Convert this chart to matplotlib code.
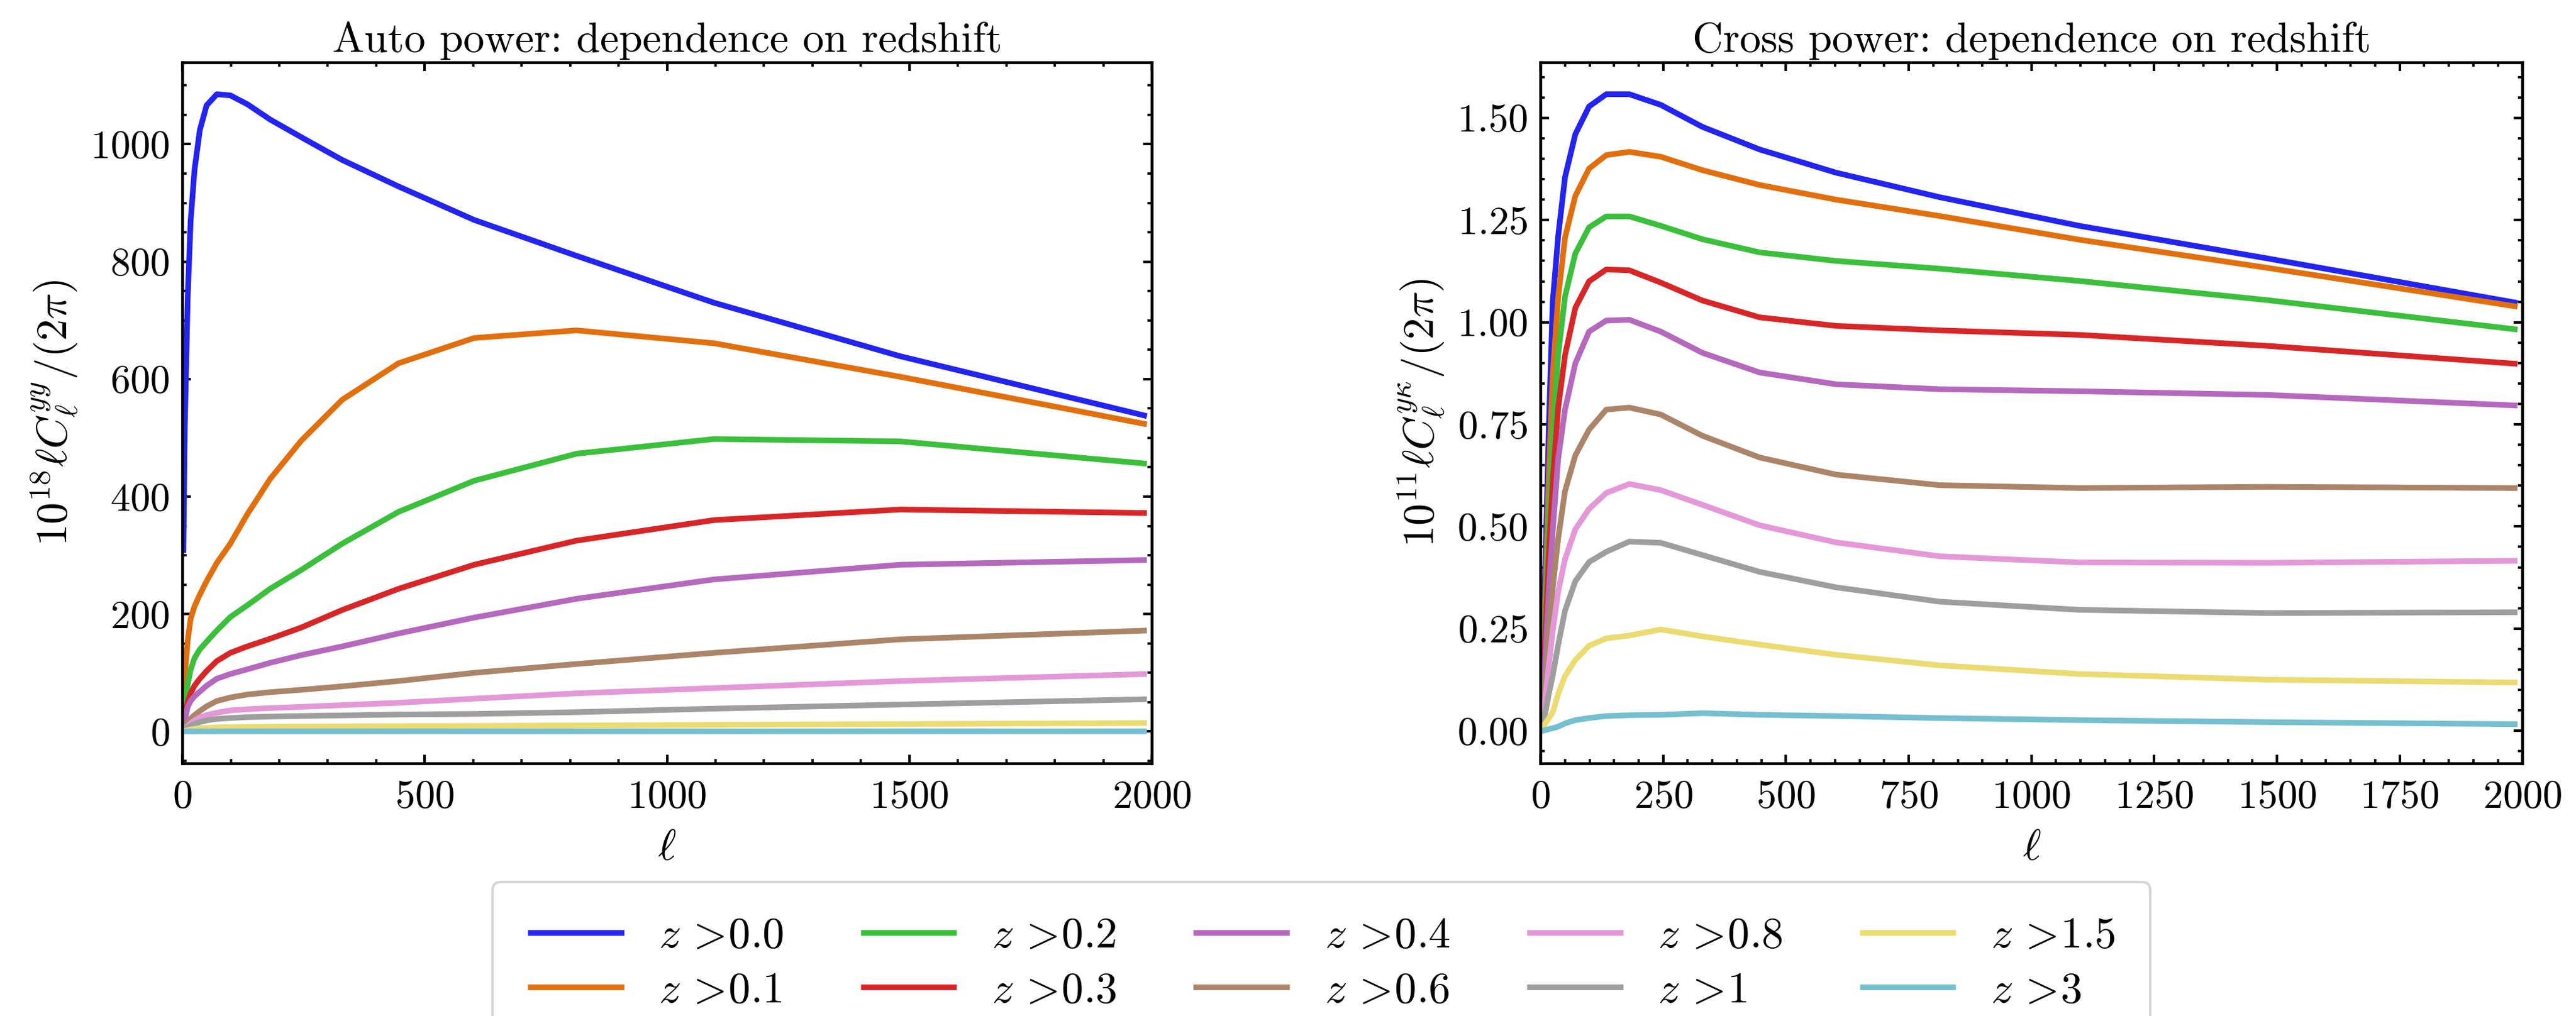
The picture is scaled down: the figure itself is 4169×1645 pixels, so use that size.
import matplotlib
matplotlib.use("Agg")
import matplotlib.pyplot as plt
from matplotlib.ticker import MultipleLocator, AutoMinorLocator

# multipoles the spectra are sampled at
ELL = [2, 5, 11, 17, 25, 36, 50, 71, 99, 134, 181, 245, 330, 446, 602, 813, 1097, 1481, 1990]

Z_LABELS = ["0.0", "0.1", "0.2", "0.3", "0.4", "0.6", "0.8", "1", "1.5", "3"]
COLORS = ["#2424ef", "#e0700f", "#3cbf3c", "#d62728", "#b469bd",
          "#ab8569", "#e399d7", "#9e9e9e", "#ebdb73", "#75bfcf"]

# 10^18 l C_l^yy / 2pi
AUTO_Z00 = [304, 520, 740, 869, 956, 1024, 1066, 1085, 1083, 1068, 1042, 1012, 973, 928, 871, 810, 730, 639, 537]
AUTO_Z01 = [5, 95, 155, 192, 213, 233, 256, 287, 320, 370, 430, 495, 565, 627, 670, 683, 661, 604, 523]
AUTO_Z02 = [2, 40, 80, 105, 125, 140, 153, 172, 195, 215, 243, 275, 320, 374, 427, 473, 498, 494, 456]
AUTO_Z03 = [1, 25, 50, 65, 78, 90, 103, 120, 134, 145, 158, 177, 207, 243, 284, 325, 360, 378, 372]
AUTO_Z04 = [1, 20, 42, 52, 60, 68, 78, 90, 98, 106, 117, 130, 145, 167, 194, 226, 259, 284, 292]
AUTO_Z06 = [0.5, 8, 16, 22, 28, 35, 43, 52, 58, 63, 67, 71, 77, 86, 100, 115, 134, 157, 172]
AUTO_Z08 = [0.3, 4, 9, 14, 19, 24, 28, 32, 36, 38, 40, 42, 45, 49, 56, 65, 74, 86, 98]
AUTO_Z1 = [0.2, 3, 7, 10, 13, 16, 19, 21.5, 23, 24.5, 25.5, 26.5, 27.5, 29, 30, 33, 39, 46, 55]
AUTO_Z15 = [0.1, 1, 2.5, 3.5, 4.5, 5.5, 6.3, 7, 7.5, 7.9, 8.2, 8.5, 8.8, 9.2, 9.7, 10.4, 11.4, 12.8, 14.5]
AUTO_Z3 = [0.0, 0.05, 0.1, 0.15, 0.2, 0.24, 0.28, 0.31, 0.34, 0.36, 0.37, 0.38, 0.39, 0.39, 0.39, 0.38, 0.37, 0.35, 0.33]

# 10^11 l C_l^{y kappa} / 2pi
CROSS_Z00 = [0.01, 0.16, 0.45, 0.74, 1.05, 1.21, 1.355, 1.46, 1.528, 1.558, 1.558, 1.532, 1.478, 1.423, 1.366, 1.306, 1.236, 1.156, 1.047]
CROSS_Z01 = [0.01, 0.13, 0.37, 0.62, 0.87, 1.06, 1.207, 1.309, 1.376, 1.409, 1.417, 1.405, 1.372, 1.336, 1.300, 1.260, 1.202, 1.133, 1.038]
CROSS_Z02 = [0.01, 0.11, 0.31, 0.52, 0.73, 0.92, 1.063, 1.168, 1.232, 1.259, 1.259, 1.236, 1.203, 1.171, 1.150, 1.131, 1.101, 1.054, 0.982]
CROSS_Z03 = [0.01, 0.09, 0.26, 0.43, 0.61, 0.79, 0.919, 1.035, 1.100, 1.129, 1.127, 1.097, 1.053, 1.012, 0.991, 0.980, 0.969, 0.942, 0.898]
CROSS_Z04 = [0.01, 0.07, 0.20, 0.34, 0.49, 0.665, 0.786, 0.899, 0.977, 1.004, 1.006, 0.977, 0.925, 0.877, 0.848, 0.836, 0.831, 0.822, 0.796]
CROSS_Z06 = [0.01, 0.05, 0.14, 0.24, 0.35, 0.47, 0.587, 0.674, 0.737, 0.786, 0.791, 0.774, 0.722, 0.669, 0.627, 0.601, 0.594, 0.597, 0.594]
CROSS_Z08 = [0.01, 0.03, 0.09, 0.16, 0.245, 0.34, 0.42, 0.493, 0.543, 0.582, 0.604, 0.589, 0.553, 0.503, 0.461, 0.427, 0.412, 0.411, 0.416]
CROSS_Z1 = [0.01, 0.02, 0.05, 0.09, 0.135, 0.21, 0.294, 0.366, 0.413, 0.438, 0.463, 0.460, 0.430, 0.389, 0.351, 0.316, 0.296, 0.288, 0.290]
CROSS_Z15 = [0.01, 0.01, 0.02, 0.03, 0.045, 0.09, 0.134, 0.173, 0.208, 0.226, 0.233, 0.248, 0.231, 0.211, 0.186, 0.160, 0.139, 0.125, 0.118]
CROSS_Z3 = [-0.002, 0.0, 0.002, 0.004, 0.006, 0.01, 0.018, 0.026, 0.031, 0.036, 0.038, 0.039, 0.043, 0.039, 0.036, 0.031, 0.026, 0.021, 0.016]

AUTO = [AUTO_Z00, AUTO_Z01, AUTO_Z02, AUTO_Z03, AUTO_Z04,
        AUTO_Z06, AUTO_Z08, AUTO_Z1, AUTO_Z15, AUTO_Z3]
CROSS = [CROSS_Z00, CROSS_Z01, CROSS_Z02, CROSS_Z03, CROSS_Z04,
         CROSS_Z06, CROSS_Z08, CROSS_Z1, CROSS_Z15, CROSS_Z3]

plt.rcParams.update({
    "font.family": "serif",
    "font.serif": ["cmr10"],
    "mathtext.fontset": "cm",
    "axes.unicode_minus": False,
    "axes.formatter.use_mathtext": True,
    "axes.linewidth": 1.1,
    "xtick.direction": "in",
    "ytick.direction": "in",
    "xtick.top": True,
    "ytick.right": True,
    "xtick.minor.visible": True,
    "ytick.minor.visible": True,
    "xtick.major.size": 3.4,
    "ytick.major.size": 3.4,
    "xtick.minor.size": 1.6,
    "ytick.minor.size": 1.6,
    "xtick.major.width": 1.0,
    "ytick.major.width": 1.0,
    "xtick.minor.width": 0.9,
    "ytick.minor.width": 0.9,
    "xtick.major.pad": 6.5,
    "ytick.major.pad": 5,
    "xtick.labelsize": 15.5,
    "ytick.labelsize": 15.5,
})


def draw_panel(ax, curves, title, ylabel, xstep, ystep):
    for vals, color, z in zip(curves, COLORS, Z_LABELS):
        # \! pulls the number back against the ">" sign
        ax.plot(ELL, vals, color=color, lw=2.2, solid_capstyle="butt",
                label=r"$z\,>\!$" + z)
    ax.set_xlim(0, 2000)
    ax.xaxis.set_major_locator(MultipleLocator(xstep))
    ax.yaxis.set_major_locator(MultipleLocator(ystep))
    ax.xaxis.set_minor_locator(AutoMinorLocator())
    ax.yaxis.set_minor_locator(AutoMinorLocator())
    ax.set_title(title, fontsize=16.5, pad=4)
    ax.set_xlabel(r"$\ell$", fontsize=17, labelpad=5)
    ax.set_ylabel(ylabel, fontsize=17, labelpad=4)


fig = plt.figure(figsize=(4169 / 300 + 1e-4, 1645 / 300 + 1e-4), dpi=300)
ax1 = fig.add_axes([0.0708, 0.2486, 0.3763, 0.6900])
ax2 = fig.add_axes([0.5980, 0.2486, 0.3812, 0.6900])

draw_panel(ax1, AUTO, "Auto power: dependence on redshift",
           r"$10^{18}\ell C_\ell^{yy}/(2\pi)$", 500, 200)
draw_panel(ax2, CROSS, "Cross power: dependence on redshift",
           r"$10^{11}\ell C_\ell^{y\kappa}/(2\pi)$", 250, 0.25)

handles, labels = ax1.get_legend_handles_labels()
fig.legend(handles, labels, loc="upper center", bbox_to_anchor=(0.513, 0.132),
           ncol=5, fontsize=17, handlelength=2.2, labelspacing=0.35,
           columnspacing=1.75, borderpad=0.8, borderaxespad=0)

fig.savefig("out.png", dpi=300)
